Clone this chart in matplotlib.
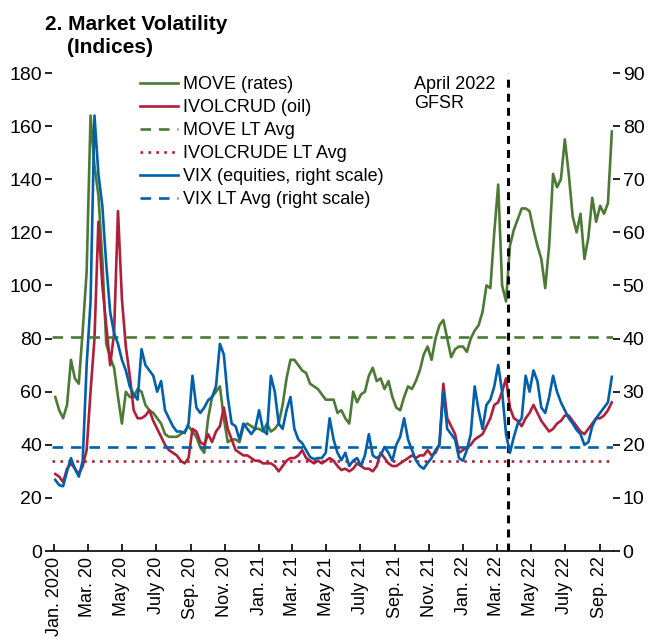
import matplotlib
matplotlib.use('Agg')
import matplotlib.pyplot as plt
import pandas as pd

plt.rcParams['font.family'] = ['Liberation Sans Narrow', 'Liberation Sans', 'DejaVu Sans']

# weekly readings, Jan 2020 - Sep 2022
dates = pd.date_range('2020-01-03', periods=143, freq='7D')

move = [58, 53, 50, 55, 72, 65, 63, 83, 105, 164, 145, 134, 110, 78, 73, 69, 58, 48, 60, 58,
        58, 61, 60, 55, 53, 52, 50, 48, 44, 43, 43, 43, 44, 45, 47, 45, 43, 39, 37, 50,
        58, 60, 62, 50, 41, 42, 42, 41, 47, 48, 47, 46, 46, 45, 48, 45, 46, 48, 55, 65,
        72, 72, 70, 68, 67, 63, 62, 61, 59, 57, 57, 57, 52, 53, 50, 48, 60, 56, 59, 60,
        66, 69, 64, 65, 61, 64, 58, 54, 53, 58, 62, 61, 64, 68, 74, 77, 72, 80, 85, 87,
        80, 73, 76, 77, 77, 75, 80, 83, 85, 90, 100, 99, 120, 138, 100, 94, 115, 121, 125, 129,
        129, 128, 121, 115, 110, 99, 115, 142, 137, 140, 155, 142, 126, 120, 127, 110, 118, 133, 124, 130,
        127, 131, 158]

ivol = [29, 28, 26, 31, 33, 31, 29, 32, 38, 60, 80, 124, 100, 85, 70, 82, 128, 95, 77, 66,
        53, 50, 50, 51, 53, 49, 46, 43, 40, 38, 37, 36, 34, 33, 35, 46, 45, 41, 40, 44,
        41, 45, 47, 54, 46, 42, 38, 37, 36, 36, 35, 34, 34, 33, 33, 33, 32, 30, 32, 34,
        35, 35, 36, 38, 35, 34, 33, 34, 33, 34, 35, 34, 32, 30.5, 31, 30, 31, 33, 32, 31,
        31, 30, 32, 37, 35, 33, 32, 32, 33, 34, 35, 36, 35, 36, 36, 38, 36, 37, 40, 63,
        50, 47, 44, 37, 38, 39, 40, 42, 43, 44, 47, 50, 55, 56, 60, 65, 54, 50, 49, 47,
        50, 52, 55, 52, 49, 47, 45, 46, 48, 49, 51, 51, 49, 47, 45, 44, 46, 48, 50, 50,
        51, 53, 56]

vix = [13.4, 12.4, 12.2, 15, 17.5, 15.5, 14, 17, 35, 47, 82, 71, 65, 54, 45, 41, 39, 36, 34, 31,
       29.5, 28.5, 38, 35, 34, 33, 30, 32, 26.5, 25, 23.5, 22.5, 22.5, 22.2, 24, 33, 27, 26, 27, 28.4,
       29, 31, 39, 37, 29, 24, 23.5, 21, 24, 23, 22, 23, 26.5, 22.8, 22, 33, 30, 24, 23, 26.5,
       29, 23, 21, 20.3, 19, 17.7, 17.3, 17.5, 17.5, 18.5, 25, 21, 18.5, 17.1, 18.5, 16, 17, 17.5, 16, 18,
       22, 18, 17.5, 18, 19.6, 18.5, 17, 20, 21.5, 25, 21, 19, 17.1, 16, 15.5, 16.6, 17.5, 19, 20, 30,
       23, 22, 21, 17.5, 17, 19, 22, 31, 26.5, 23, 27.5, 28.5, 31, 35, 30, 22, 18.5, 21.5, 24, 25,
       33, 30, 34, 32, 27, 26, 29, 33, 30, 28, 26.5, 25, 24, 22.8, 22, 20, 20.5, 23.5, 25, 26,
       27, 28, 32.8]

move_lt = 80.7
ivol_lt = 33.9
vix_lt = 19.5
gfsr_date = pd.Timestamp('2022-03-21')

tick_dates = pd.date_range('2020-01-01', '2022-09-01', freq='2MS')
tick_labels = ['Jan. 2020', 'Mar. 20', 'May 20', 'July 20', 'Sep. 20', 'Nov. 20',
               'Jan. 21', 'Mar. 21', 'May 21', 'July 21', 'Sep. 21', 'Nov. 21',
               'Jan. 22', 'Mar. 22', 'May 22', 'July 22', 'Sep. 22']

green = '#4C7A34'
red = '#B01F3A'
blue = '#0060AB'

fig = plt.figure(figsize=(6.49, 6.39), dpi=100)
ax = fig.add_axes([0.080, 0.1377, 0.8645, 0.748])
ax2 = ax.twinx()

l1, = ax.plot(dates, move, color=green, lw=1.9, label='MOVE (rates)')
l2, = ax.plot(dates, ivol, color=red, lw=1.9, label='IVOLCRUD (oil)')
l3 = ax.axhline(move_lt, color=green, lw=1.9, ls=(0, (4, 3)), label='MOVE LT Avg')
l4 = ax.axhline(ivol_lt, color=red, lw=1.9, ls=(0, (1, 2)), label='IVOLCRUDE LT Avg')
l5, = ax2.plot(dates, vix, color=blue, lw=1.9, label='VIX (equities, right scale)')
l6 = ax2.axhline(vix_lt, color=blue, lw=1.9, ls=(0, (4, 3)), label='VIX LT Avg (right scale)')
ax.axvline(gfsr_date, color='black', lw=2.2, ls=(0, (2.6, 2)))
ax.text(pd.Timestamp('2021-10-05'), 172, 'April 2022\nGFSR', fontsize=13, va='center',
        linespacing=1.15)

ax.set_xlim(pd.Timestamp('2019-12-28'), pd.Timestamp('2022-09-25'))
ax.set_ylim(0, 180)
ax2.set_ylim(0, 90)
ax.set_yticks(range(0, 181, 20))
ax2.set_yticks(range(0, 91, 10))
ax.set_xticks(tick_dates)
ax.set_xticklabels(tick_labels, rotation=90)

for a in (ax, ax2):
    for s in ('top', 'left', 'right'):
        a.spines[s].set_visible(False)
ax2.spines['bottom'].set_visible(False)
ax.spines['bottom'].set_linewidth(1.2)
ax.tick_params(axis='y', direction='out', length=5, width=1.2, labelsize=14, pad=2)
ax2.tick_params(axis='y', direction='out', length=5, width=1.2, labelsize=14, pad=2)
ax.tick_params(axis='x', direction='in', length=5, width=1.2, labelsize=13, pad=4)

fig.legend(handles=[l1, l2, l3, l4, l5, l6], loc='upper left',
           bbox_to_anchor=(0.202, 0.895), frameon=False, fontsize=13,
           handlelength=2.1, handletextpad=0.3, labelspacing=0.33, borderpad=0)

fig.text(0.069, 0.953, '2. Market Volatility', fontsize=15, fontweight='bold')
fig.text(0.103, 0.917, '(Indices)', fontsize=15, fontweight='bold')

fig.savefig('out.png', dpi=100)
